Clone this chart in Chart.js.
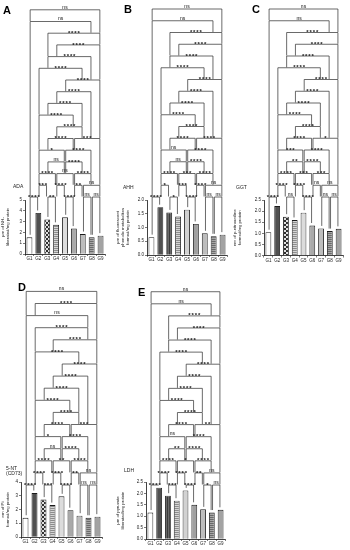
<!DOCTYPE html>
<html>
<head>
<meta charset="utf-8">
<script src="https://cdn.jsdelivr.net/npm/chart.js@4.4.1/dist/chart.umd.min.js"></script>
<style>
  body { margin: 0; background: #fff; width: 350px; height: 550px; position: relative; overflow: hidden;
         font-family: "Liberation Sans", Arial, sans-serif; }
  .panel { position: absolute; }
  .letter { position: absolute; font-weight: bold; font-size: 11px; line-height: 11px; color: #000; }
  .enz { position: absolute; font-size: 5px; line-height: 5px; color: #222; }
</style>
</head>
<body>
<div class="panel" style="left:0px;top:0px"><canvas id="chartA" width="112" height="262"></canvas></div>
<div class="panel" style="left:115px;top:0px"><canvas id="chartB" width="117" height="262"></canvas></div>
<div class="panel" style="left:232px;top:0px"><canvas id="chartC" width="118" height="262"></canvas></div>
<div class="panel" style="left:0px;top:270px"><canvas id="chartD" width="110" height="280"></canvas></div>
<div class="panel" style="left:115px;top:270px"><canvas id="chartE" width="115" height="280"></canvas></div>

<div class="letter" style="left:3px;top:5px">A</div>
<div class="letter" style="left:124px;top:4px">B</div>
<div class="letter" style="left:252px;top:4px">C</div>
<div class="letter" style="left:18px;top:282px">D</div>
<div class="letter" style="left:138px;top:287px">E</div>

<div class="enz" style="left:13px;top:184px">ADA</div>
<div class="enz" style="left:123px;top:185px">AHH</div>
<div class="enz" style="left:236px;top:185px">GGT</div>
<div class="enz" style="left:6px;top:466px">5-NT<br>(CD73)</div>
<div class="enz" style="left:124px;top:468px">LDH</div>

<script>
// Grupos y valores
const groups = ['G1', 'G2', 'G3', 'G4', 'G5', 'G6', 'G7', 'G8', 'G9'];

const adaValues = [1.55, 3.8, 3.2, 2.7, 3.4, 2.35, 1.85, 1.55, 1.7];
const ahhValues = [0.65, 1.74, 1.55, 1.4, 1.65, 1.13, 0.79, 0.68, 0.74];
const ggtValues = [1.05, 2.23, 1.75, 1.6, 1.93, 1.35, 1.22, 1.1, 1.2];
const ntValues = [1.4, 3.2, 2.72, 2.32, 2.96, 1.95, 1.55, 1.4, 1.48];
const ldhValues = [1.16, 2.25, 1.9, 1.68, 2.13, 1.5, 1.3, 1.16, 1.28];

const adaTicks = [0, 1, 2, 3, 4, 5];
const ahhTicks = [0, 0.5, 1, 1.5, 2];
const ggtTicks = [0, 0.5, 1, 1.5, 2, 2.5];
const ntTicks = [0, 1, 2, 3, 4];
const ldhTicks = [0, 0.5, 1, 1.5, 2, 2.5];

// Comparaciones: [grupo inicial, grupo final, nivel]
const pairsMain = [
    [1, 2, 0], [3, 4, 0], [5, 6, 0], [7, 8, 0], [8, 9, 0],
    [2, 3, 1], [4, 5, 1], [6, 7, 1], [7, 9, 1],
    [2, 4, 2], [4, 6, 2], [6, 8, 2],
    [3, 5, 3], [5, 7, 3],
    [2, 5, 4], [5, 8, 4],
    [3, 6, 5], [6, 9, 5],
    [4, 7, 6], [2, 6, 7], [3, 7, 8], [4, 8, 9], [5, 9, 10], [2, 7, 11],
    [3, 8, 12], [4, 9, 13], [3, 9, 14], [1, 8, 15], [1, 9, 16]
];
const pairsNT = [
    [1, 2, 0], [3, 4, 0], [5, 6, 0], [7, 8, 0], [8, 9, 0],
    [2, 3, 1], [4, 5, 1], [6, 7, 1], [7, 9, 1],
    [2, 4, 2], [4, 6, 2], [6, 8, 2],
    [3, 5, 3], [5, 7, 3],
    [2, 5, 4], [5, 8, 4],
    [3, 6, 5], [6, 9, 5],
    [4, 7, 6], [2, 6, 7], [3, 7, 8], [4, 8, 9], [5, 9, 10], [2, 7, 11],
    [4, 9, 12], [2, 8, 13], [1, 8, 14], [2, 9, 15], [1, 9, 16]
];

const adaStars = ['****', '**', '****', 'ns', 'ns', '***', '****', '**', 'ns', '****', 'ns', '****',
    'ns', '****', '*', '****', '****', '***', '****', '****', '****', '****', '****', '****',
    '****', '****', '****', 'ns', 'ns'];
const ahhStars = ['****', '*', '****', 'ns', 'ns', '*', '***', '****', 'ns', '****', '***', '****',
    'ns', '****', 'ns', '****', '****', '****', '****', '****', '****', '****', '****', '****',
    '****', '****', '****', 'ns', 'ns'];
const ggtStars = ['****', 'ns', '****', 'ns', 'ns', '****', '****', 'ns', 'ns', '****', '***', '***',
    '**', '****', '***', '****', '****', '*', '****', '****', '****', '****', '****', '****',
    '****', '****', '****', 'ns', 'ns'];
const ntStars = ['****', '***', '****', 'ns', 'ns', '****', '****', '**', 'ns', '****', '**', '****',
    'ns', '****', '*', '****', '****', '***', '****', '****', '****', '****', '****', '****',
    '****', '****', 'ns', '****', 'ns'];
const ldhStars = ['****', '***', '****', '*', 'ns', '****', '****', '**', 'ns', '****', '*', '****',
    '**', '****', 'ns', '****', '****', '**', '****', '****', '****', '****', '****', '****',
    '****', '****', '****', 'ns', 'ns'];

// Rellenos de las barras
const fillsChecker = ['#ffffff', '#505050', 'checker', 'lines', '#dcdcdc', '#a9a9a9', '#bdbdbd', 'darklines', '#a3a3a3'];
const fillsPlain = ['#ffffff', '#505050', 'vlines', 'lines', '#d2d2d2', '#a0a0a0', '#bdbdbd', 'darklines', '#a3a3a3'];

function makeFill(kind) {
    if (kind[0] === '#') return kind;
    const c = document.createElement('canvas');
    c.width = 4;
    c.height = 4;
    const g = c.getContext('2d');
    if (kind === 'checker') {
        g.fillStyle = '#e0e0e0';
        g.fillRect(0, 0, 4, 4);
        g.fillStyle = '#2e2e2e';
        g.fillRect(0, 0, 2, 2);
        g.fillRect(2, 2, 2, 2);
    } else if (kind === 'lines') {
        g.fillStyle = '#d6d6d6';
        g.fillRect(0, 0, 4, 4);
        g.fillStyle = '#8c8c8c';
        g.fillRect(0, 0, 4, 1);
        g.fillRect(0, 2, 4, 1);
    } else if (kind === 'darklines') {
        g.fillStyle = '#a6a6a6';
        g.fillRect(0, 0, 4, 4);
        g.fillStyle = '#6a6a6a';
        g.fillRect(0, 1, 4, 1);
        g.fillRect(0, 3, 4, 1);
    } else if (kind === 'vlines') {
        g.fillStyle = '#6a6a6a';
        g.fillRect(0, 0, 4, 4);
        g.fillStyle = '#3a3a3a';
        g.fillRect(0, 0, 1, 4);
        g.fillRect(2, 0, 1, 4);
    }
    return g.createPattern(c, 'repeat');
}

// Plugin que dibuja los corchetes de significancia
const bracketPlugin = {
    id: 'brackets',
    afterDatasetsDraw(chart, args, opts) {
        const ctx = chart.ctx;
        const xs = chart.scales.x;
        const ys = chart.scales.y;
        const vals = chart.data.datasets[0].data;
        const pairs = opts.pairs;
        const levelY = k => opts.base - k * opts.step;
        const inset = 0.7;

        const legEnd = (g, k) => {
            let best = -1;
            pairs.forEach(([c, d, j]) => {
                if (j < k && c <= g && g <= d && j > best) best = j;
            });
            if (best >= 0) return levelY(best) - 0.5;
            return ys.getPixelForValue(vals[g - 1]) - 2.5;
        };

        ctx.save();
        ctx.strokeStyle = '#2a2a2a';
        ctx.lineWidth = 0.7;
        ctx.fillStyle = '#111';
        ctx.textAlign = 'center';
        ctx.textBaseline = 'alphabetic';
        pairs.forEach(([a, b, k], i) => {
            const y = levelY(k);
            const xa = xs.getPixelForValue(a - 1) + inset;
            const xb = xs.getPixelForValue(b - 1) - inset;
            ctx.beginPath();
            ctx.moveTo(xa, legEnd(a, k));
            ctx.lineTo(xa, y);
            ctx.lineTo(xb, y);
            ctx.lineTo(xb, legEnd(b, k));
            ctx.stroke();

            const label = opts.labels[i];
            const cx = (xa + xb) / 2;
            if (label === 'ns') {
                ctx.font = '5px "Liberation Sans", Arial, sans-serif';
                ctx.fillText('ns', cx, y - 1.2);
            } else {
                ctx.font = 'bold 6px "Liberation Sans", Arial, sans-serif';
                const gap = 3.2;
                const x0 = cx - (label.length - 1) * gap / 2;
                for (let n = 0; n < label.length; n++) {
                    ctx.fillText('*', x0 + n * gap, y + 1.6);
                }
            }
        });
        ctx.restore();
    }
};

function makeChart(id, values, ticks, title, pairs, stars, fills, geom) {
    const canvas = document.getElementById(id);
    const ctx = canvas.getContext('2d');
    return new Chart(ctx, {
        type: 'bar',
        data: {
            labels: groups,
            datasets: [{
                data: values,
                backgroundColor: fills.map(makeFill),
                borderColor: '#1a1a1a',
                borderWidth: 0.9,
                barPercentage: 0.66,
                categoryPercentage: 1
            }]
        },
        options: {
            responsive: false,
            animation: false,
            devicePixelRatio: 1,
            layout: {
                padding: { top: geom.top, right: geom.right, bottom: geom.bottom, left: 0 }
            },
            plugins: {
                legend: { display: false },
                tooltip: { enabled: false },
                brackets: { pairs: pairs, labels: stars, base: geom.base, step: geom.step }
            },
            scales: {
                x: {
                    afterFit: scale => { scale.height = geom.xh; },
                    grid: { drawOnChartArea: false, drawTicks: true, tickLength: 2, color: '#222', lineWidth: 0.6 },
                    border: { color: '#111', width: 0.8 },
                    ticks: { color: '#222', font: { size: 4.5 }, padding: 0.5, maxRotation: 0, autoSkip: false }
                },
                y: {
                    min: 0,
                    max: ticks[ticks.length - 1],
                    afterFit: scale => { scale.width = geom.yw; },
                    afterBuildTicks: scale => { scale.ticks = ticks.map(v => ({ value: v })); },
                    grid: { drawOnChartArea: false, drawTicks: true, tickLength: 2, color: '#222', lineWidth: 0.6 },
                    border: { color: '#111', width: 0.8 },
                    ticks: {
                        color: '#222', font: { size: 4.5 }, padding: 1,
                        callback: v => (ticks[ticks.length - 1] > 3 ? String(v) : v.toFixed(1))
                    },
                    title: {
                        display: true,
                        text: title,
                        color: '#222',
                        font: { size: 4.3 },
                        padding: { top: 0, bottom: 1 }
                    }
                }
            }
        },
        plugins: [bracketPlugin]
    });
}

makeChart('chartA', adaValues, adaTicks, ['µm of NH₃', 'liberated/mg protein'], pairsMain, adaStars, fillsChecker,
    { top: 200, right: 7, bottom: 0, xh: 8, yw: 25, base: 197, step: 11.7 });
makeChart('chartB', ahhValues, ahhTicks, ['µm of fluorescent', 'phenolic metabolites', 'formed/mg protein'], pairsMain, ahhStars, fillsPlain,
    { top: 200, right: 5, bottom: 0, xh: 7, yw: 32, base: 197, step: 11.75 });
makeChart('chartC', ggtValues, ggtTicks, ['nm of p-nitroaniline', 'formed/mg protein'], pairsMain, ggtStars, fillsChecker,
    { top: 200, right: 7, bottom: 0, xh: 6.5, yw: 32, base: 197, step: 11.75 });
makeChart('chartD', ntValues, ntTicks, ['nm of Pi', 'formed/mg protein'], pairsNT, ntStars, fillsChecker,
    { top: 212, right: 8, bottom: 3, xh: 10, yw: 21, base: 215, step: 12.1 });
makeChart('chartE', ldhValues, ldhTicks, ['µm of pyruvate', 'liberated/mg protein'], pairsMain, ldhStars, fillsPlain,
    { top: 212, right: 5, bottom: 2, xh: 9, yw: 31, base: 215, step: 12.08 });
</script>
</body>
</html>
